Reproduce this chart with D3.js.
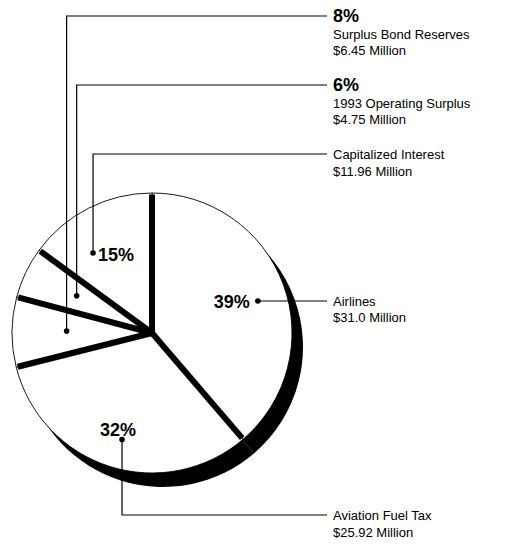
<!DOCTYPE html>
<html>
<head>
<meta charset="utf-8">
<script src="https://cdn.jsdelivr.net/npm/d3@7"></script>
<style>
  body { margin: 0; background: #fff; }
  svg { display: block; font-family: "Liberation Sans", Arial, sans-serif; }
</style>
</head>
<body>
<script>
// data
var categories = ["Airlines", "Aviation Fuel Tax", "Surplus Bond Reserves", "1993 Operating Surplus", "Capitalized Interest"];
var amounts = [31.0, 25.92, 6.45, 4.75, 11.96];
var amountLabels = ["$31.0 Million", "$25.92 Million", "$6.45 Million", "$4.75 Million", "$11.96 Million"];
var percentLabels = ["39%", "32%", "8%", "6%", "15%"];

// label placement (angle shift in degrees, radius share, leader style)
var labelLayout = [
    {da: 3.5, rr: 0.79, leader: "right", pct: "inside-left"},
    {da: -1.9, rr: 0.79, leader: "down", toY: 515, pct: "inside-top"},
    {da: 0.9, rr: 0.61, leader: "up", toY: 16, pct: "outside"},
    {da: 0.7, rr: 0.60, leader: "up", toY: 85, pct: "outside"},
    {da: -9.5, rr: 0.71, leader: "up", toY: 154, pct: "inside-right"}
];

var width = 510, height = 546;
var cx = 152, cy = 333, R = 140;
var shadow = {dx: 11, dy: 14};
var leaderEnd = 327, textX = 333;

var svg = d3.select("body").append("svg")
    .attr("width", width)
    .attr("height", height);

var pie = d3.pie().sort(null).value(function(d){ return d; });
var arcs = pie(amounts);

var arc = d3.arc().innerRadius(0).outerRadius(R);

var g = svg.append("g").attr("transform", "translate(" + cx + "," + cy + ")");

// drop shadow of each slice
g.append("g")
    .attr("transform", "translate(" + shadow.dx + "," + shadow.dy + ")")
    .selectAll("path").data(arcs).enter().append("path")
    .attr("d", arc)
    .attr("fill", "#000");

// slices
g.append("g").selectAll("path").data(arcs).enter().append("path")
    .attr("d", arc)
    .attr("fill", "#fff")
    .attr("stroke", "#000")
    .attr("stroke-width", 0.9);

// thick dark edges between slices
g.append("g").selectAll("path").data(arcs).enter().append("path")
    .attr("d", function(d){
        return d3.line()([[0, 0], d3.pointRadial(d.startAngle, R - 1.5)]);
    })
    .attr("stroke", "#000")
    .attr("stroke-width", 6);

// anchor points
var anchors = arcs.map(function(d, i){
    var l = labelLayout[i];
    var a = (d.startAngle + d.endAngle) / 2 + l.da * Math.PI / 180;
    var p = d3.pointRadial(a, l.rr * R);
    return {x: cx + p[0], y: cy + p[1]};
});

var lab = svg.append("g");

anchors.forEach(function(p, i){
    var l = labelLayout[i];
    var pts;
    if (l.leader === "right") {
        pts = [[p.x, p.y], [leaderEnd, p.y]];
    } else {
        pts = [[p.x, p.y], [p.x, l.toY], [leaderEnd, l.toY]];
    }
    lab.append("path")
        .attr("d", d3.line()(pts))
        .attr("fill", "none")
        .attr("stroke", "#000")
        .attr("stroke-width", 1.2);
    lab.append("circle")
        .attr("cx", p.x).attr("cy", p.y).attr("r", 2.8)
        .attr("fill", "#000");

    // percent inside the pie
    if (l.pct === "inside-left") {
        lab.append("text").attr("x", p.x - 8).attr("y", p.y + 7)
            .attr("text-anchor", "end").attr("font-weight", "bold").attr("font-size", 18)
            .text(percentLabels[i]);
    } else if (l.pct === "inside-right") {
        lab.append("text").attr("x", p.x + 5).attr("y", p.y + 8)
            .attr("font-weight", "bold").attr("font-size", 18)
            .text(percentLabels[i]);
    } else if (l.pct === "inside-top") {
        lab.append("text").attr("x", p.x - 4).attr("y", p.y - 3)
            .attr("text-anchor", "middle").attr("font-weight", "bold").attr("font-size", 18)
            .text(percentLabels[i]);
    }

    // text block at the right
    var ly = l.leader === "right" ? p.y : l.toY;
    var lines = [];
    if (l.pct === "outside") {
        lab.append("text").attr("x", textX).attr("y", ly + 6)
            .attr("font-weight", "bold").attr("font-size", 18)
            .text(percentLabels[i]);
        lines = [{t: categories[i], y: ly + 22.5}, {t: amountLabels[i], y: ly + 39}];
    } else {
        lines = [{t: categories[i], y: ly + 5}, {t: amountLabels[i], y: ly + 21.5}];
    }
    lines.forEach(function(s){
        lab.append("text").attr("x", textX).attr("y", s.y)
            .attr("font-size", 13)
            .text(s.t);
    });
});
</script>
</body>
</html>
